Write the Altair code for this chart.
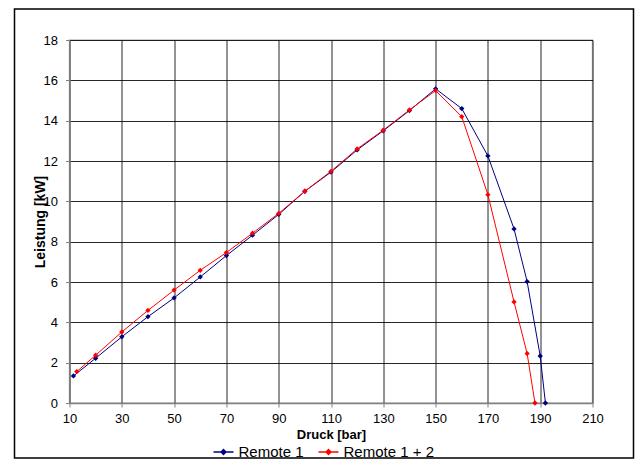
import altair as alt
import pandas as pd

series_names = ["Remote 1", "Remote 1 + 2"]
series_colors = ["#000080", "#ff0000"]

r1_druck = [11.5, 20, 30, 40, 50, 60, 70, 80, 90, 100, 110, 120, 130, 140, 150, 160, 170, 180, 185, 190, 192]
r1_leistung = [1.34, 2.22, 3.28, 4.28, 5.21, 6.25, 7.31, 8.32, 9.35, 10.5, 11.45, 12.55, 13.5, 14.5, 15.58, 14.6, 12.25, 8.63, 6.02, 2.33, 0.0]

r12_druck = [12.8, 20, 30, 40, 50, 60, 70, 80, 90, 100, 110, 120, 130, 140, 150, 160, 170, 180, 185, 188]
r12_leistung = [1.56, 2.37, 3.52, 4.59, 5.6, 6.58, 7.46, 8.42, 9.4, 10.5, 11.49, 12.6, 13.53, 14.53, 15.49, 14.2, 10.33, 5.01, 2.45, 0.0]

x_ticks = [10, 30, 50, 70, 90, 110, 130, 150, 170, 190, 210]
y_ticks = [0, 2, 4, 6, 8, 10, 12, 14, 16, 18]

rows = []
for d, l in zip(r1_druck, r1_leistung):
    rows.append({"Druck": d, "Leistung": l, "Serie": series_names[0]})
for d, l in zip(r12_druck, r12_leistung):
    rows.append({"Druck": d, "Leistung": l, "Serie": series_names[1]})
df = pd.DataFrame(rows)

FONT = "Liberation Sans"

lines = alt.Chart(df).mark_line(
    strokeWidth=1,
    point=alt.OverlayMarkDef(shape="diamond", filled=True, size=28, opacity=1),
).encode(
    x=alt.X("Druck:Q",
            scale=alt.Scale(domain=[10, 210], nice=False, zero=False),
            axis=alt.Axis(values=x_ticks, title="Druck [bar]", format="d",
                          labelFlush=False)),
    y=alt.Y("Leistung:Q",
            scale=alt.Scale(domain=[0, 18], nice=False),
            axis=alt.Axis(values=y_ticks, title="Leistung [kW]", format="d")),
    color=alt.Color("Serie:N",
                    scale=alt.Scale(domain=series_names, range=series_colors),
                    legend=alt.Legend(
                        title=None, orient="none", direction="horizontal",
                        legendX=143, legendY=401,
                        symbolType="M-1,0H1M0,-0.25L0.25,0L0,0.25L-0.25,0Z",
                        symbolSize=400, symbolStrokeWidth=1.3,
                        labelFont=FONT, labelFontSize=15, labelColor="black",
                        labelOffset=4, columnPadding=11,
                    )),
    detail="Serie:N",
)

frame_df = pd.DataFrame({"k": [0]})
frame = alt.Chart(frame_df).mark_rect(
    fillOpacity=0, stroke="black", strokeWidth=1.5
).encode(
    x=alt.value(-55), x2=alt.value(564),
    y=alt.value(-31), y2=alt.value(418),
)

chart = alt.layer(lines, frame).properties(
    width=523, height=363,
    autosize=alt.AutoSizeParams(type="none"),
    padding={"left": 61.5, "top": 32, "right": 42, "bottom": 56},
    background="white",
).configure_view(
    stroke="#c0c0c0", strokeWidth=1.5
).configure_axis(
    grid=True, gridColor="#000000", gridWidth=1, gridOpacity=0.85,
    domainColor="#808080", domainWidth=1.5,
    tickColor="#808080", tickSize=4,
    labelFont=FONT, labelFontSize=13, labelColor="black",
    titleFont=FONT, titleColor="black", titleFontWeight="bold",
).configure_axisX(
    labelPadding=5, titleFontSize=13, titlePadding=3,
).configure_axisY(
    labelPadding=8, titleFontSize=14, titlePadding=-4,
)

chart.save("out.html", embed_options={"renderer": "svg", "actions": False})
